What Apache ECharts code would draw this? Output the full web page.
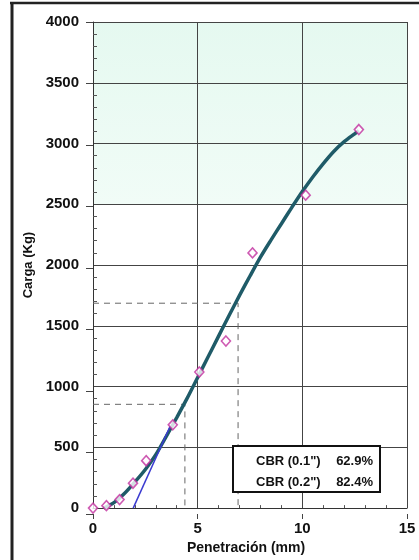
<!DOCTYPE html>
<html><head><meta charset="utf-8">
<script src="https://cdn.jsdelivr.net/npm/echarts@6/dist/echarts.min.js"></script>
<style>html,body{margin:0;padding:0;background:#fff}#c{width:419px;height:560px}</style>
</head><body><div id="c"></div>
<script>
// Measured points (penetración mm, carga kg)
const penetration = [0, 0.64, 1.27, 1.91, 2.54, 3.81, 5.08, 6.35, 7.62, 10.16, 12.7];
const load = [0, 20, 70, 205, 390, 685, 1120, 1375, 2100, 2575, 3115];
// Fitted curve
const curveX = [0.5, 1, 1.5, 2, 2.5, 3, 3.5, 4, 4.5, 5, 5.5, 6, 6.5, 7, 7.5, 8, 8.5, 9, 9.5, 10, 10.5, 11, 11.5, 12, 12.5, 12.7];
const curveY = [0, 45, 120, 215, 318, 440, 590, 745, 905, 1075, 1245, 1415, 1585, 1750, 1910, 2065, 2205, 2340, 2475, 2605, 2725, 2835, 2935, 3015, 3080, 3105];
// Tangent correction line
const tangentX = [1.92, 3.7];
const tangentY = [0, 680];
// Corrected penetrations and loads (dashed guides)
const corrPen = [4.39, 6.93];
const corrLoad = [854, 1686];
// CBR results
const cbrLabels = ['CBR (0.1")', 'CBR (0.2")'];
const cbrValues = [62.9, 82.4];
// Shaded band
const shadeFrom = 2500, shadeTo = 4000;

const FF = '"Liberation Sans", Arial, sans-serif';
const chart = echarts.init(document.getElementById('c'));

const dashedSeries = corrPen.map((p, i) => ({
  type: 'line', xAxisIndex: 0, yAxisIndex: 0, silent: true, symbol: 'none', z: 1,
  data: [[0, corrLoad[i]], [p, corrLoad[i]], [p, 0]],
  lineStyle: { color: '#666', width: 1, type: [6, 5] }
}));

const G = { left: 93, top: 22, width: 314, height: 492 };

chart.setOption({
  animation: false,
  grid: [Object.assign({}, G), Object.assign({}, G)],
  xAxis: [{
    type: 'value', gridIndex: 0, min: 0, max: 15, interval: 5,
    axisLine: { show: true, lineStyle: { color: '#333', width: 1 } },
    axisTick: { show: false, inside: true },
    minorTick: { show: true, splitNumber: 5, length: 3, lineStyle: { color: '#555' } },
    splitLine: { show: true, lineStyle: { color: '#444', width: 1 } },
    axisLabel: { fontFamily: FF, fontWeight: 'bold', fontSize: 15, color: '#111', margin: 13, formatter: v => String(v) },
    name: 'Penetración (mm)', nameLocation: 'middle', nameGap: 24,
    nameTextStyle: { fontFamily: FF, fontWeight: 'bold', fontSize: 14, color: '#111', padding: [0, 8, 0, 0] }
  }, {
    type: 'value', gridIndex: 1, min: 0, max: 15, interval: 5,
    axisLine: { show: false }, axisLabel: { show: false }, splitLine: { show: false },
    axisTick: { show: true, length: 5, lineStyle: { color: '#444' } }
  }],
  yAxis: [{
    type: 'value', gridIndex: 0, min: 0, max: 4000, interval: 500,
    axisLine: { show: true, lineStyle: { color: '#333', width: 1 } },
    axisTick: { show: false, inside: true },
    minorTick: { show: true, splitNumber: 5, length: 4, lineStyle: { color: '#555' } },
    splitLine: { show: true, lineStyle: { color: '#444', width: 1 } },
    axisLabel: { fontFamily: FF, fontWeight: 'bold', fontSize: 15, color: '#111', margin: 14, formatter: v => String(v) },
    name: 'Carga (Kg)', nameLocation: 'middle', nameGap: 52,
    nameTextStyle: { fontFamily: FF, fontWeight: 'bold', fontSize: 13, color: '#111' }
  }, {
    type: 'value', gridIndex: 1, min: 0, max: 4000, interval: 500,
    axisLine: { show: false }, axisLabel: { show: false }, splitLine: { show: false },
    axisTick: { show: true, length: 7, lineStyle: { color: '#444' } }
  }],
  series: [
    {
      type: 'line', silent: true, symbol: 'none', z: -1,
      data: [[0, shadeTo], [15, shadeTo]],
      lineStyle: { width: 0 },
      areaStyle: { origin: shadeFrom, opacity: 1,
        color: new echarts.graphic.LinearGradient(0, 0, 0, 1, [
          { offset: 0, color: '#e5f9f0' }, { offset: 1, color: '#f1fcf7' }]) }
    },
    ...dashedSeries,
    {
      type: 'line', smooth: 0.3, symbol: 'none', z: 3,
      data: curveX.map((x, i) => [x, curveY[i]]),
      lineStyle: { color: '#1f5b68', width: 3.5 }
    },
    {
      type: 'line', symbol: 'none', z: 4,
      data: tangentX.map((x, i) => [x, tangentY[i]]),
      lineStyle: { color: '#3b3bd0', width: 1.5 }
    },
    {
      type: 'scatter', symbol: 'diamond', symbolSize: [9, 10], z: 5,
      data: penetration.map((x, i) => [x, load[i]]),
      itemStyle: { color: '#ffffff', borderColor: '#c2309f', borderWidth: 1.6 }
    }
  ],
  graphic: [
    { type: 'line', shape: { x1: 12, y1: 2, x2: 12, y2: 560 }, style: { stroke: '#222', lineWidth: 3 }, silent: true },
    { type: 'line', shape: { x1: 10, y1: 3, x2: 419, y2: 3 }, style: { stroke: '#222', lineWidth: 2.5 }, silent: true },
    { type: 'rect', shape: { x: 233, y: 446, width: 147, height: 46 }, style: { fill: '#fff', stroke: '#111', lineWidth: 2 }, z: 10 },
    ...cbrLabels.map((t, i) => ({
      type: 'text', z: 11, style: { x: 256, y: 461 + i * 21, text: t, font: 'bold 13px ' + FF, fill: '#111', textVerticalAlign: 'middle', verticalAlign: 'middle' }
    })),
    ...cbrValues.map((v, i) => ({
      type: 'text', z: 11, style: { x: 373, y: 461 + i * 21, text: v.toFixed(1) + '%', font: 'bold 13px ' + FF, fill: '#111', align: 'right', textAlign: 'right', verticalAlign: 'middle', textVerticalAlign: 'middle' }
    }))
  ]
});
</script></body></html>
